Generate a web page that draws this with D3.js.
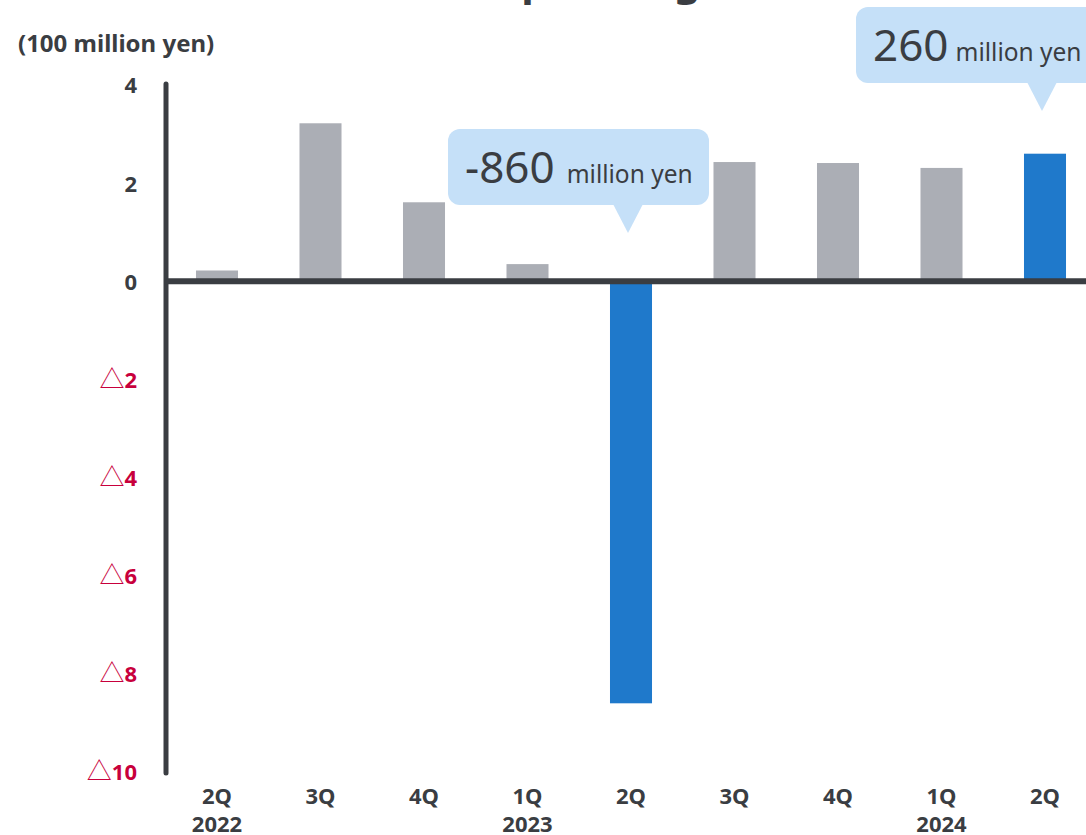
<!DOCTYPE html>
<html>
<head>
<meta charset="utf-8">
<script src="https://cdn.jsdelivr.net/npm/d3@7"></script>
<style>
  html, body { margin: 0; padding: 0; background: #ffffff; }
  svg { display: block; }
  text { font-family: "Noto Sans", "DejaVu Sans", sans-serif; }
</style>
</head>
<body>
<svg id="chart" width="1086" height="835"></svg>
<script>
// Quarterly operating income, in units of 100 million yen
const quarters = ["2Q", "3Q", "4Q", "1Q", "2Q", "3Q", "4Q", "1Q", "2Q"];
const years    = ["2022", "", "", "2023", "", "", "", "2024", ""];
const profit   = [0.22, 3.22, 1.61, 0.35, -8.6, 2.43, 2.41, 2.31, 2.6];
const highlighted = [false, false, false, false, true, false, false, false, true];
const yTicks   = [4, 2, 0, -2, -4, -6, -8, -10];

// Callouts attached to selected quarters
const calloutIndex = [4, 8];
const calloutValue = ["-860", "260"];
const calloutUnit  = "million yen";

const ink = "#3a3d42";
const grey = "#abaeb5";
const blue = "#1f79cb";
const negRed = "#c8003c";
const bubble = "#c5e0f8";

const svg = d3.select("#chart");

const x = d3.scalePoint()
  .domain(d3.range(quarters.length))
  .range([165.25, 1096.75])
  .padding(0.5);
const barW = x.step() * 0.406;

const y = d3.scaleLinear().domain([4, -10]).range([85, 772]);

// Title (runs off the top edge)
svg.append("text")
  .attr("x", 488).attr("y", -5)
  .attr("font-size", 42).attr("font-weight", 700)
  .attr("fill", ink)
  .text("Operating income");

// Unit label
svg.append("text")
  .attr("x", 18).attr("y", 52)
  .attr("font-size", 24).attr("font-weight", 700)
  .attr("fill", ink)
  .text("(100 million yen)");

// Bars
svg.append("g").selectAll("rect")
  .data(profit)
  .join("rect")
  .attr("x", (d, i) => x(i) - barW / 2)
  .attr("y", d => y(Math.max(0, d)))
  .attr("width", barW)
  .attr("height", d => Math.abs(y(d) - y(0)))
  .attr("fill", (d, i) => highlighted[i] ? blue : grey);

// Y axis: spine and labels only; negatives carry a leading triangle
const yAxis = d3.axisLeft(y)
  .tickValues(yTicks)
  .tickSize(0)
  .tickPadding(0)
  .tickFormat(d => String(Math.abs(d)));

const yg = svg.append("g").attr("transform", "translate(137,0)").call(yAxis);
yg.select(".domain").remove();
yg.selectAll("text")
  .attr("font-family", "'Noto Sans', 'DejaVu Sans', sans-serif")
  .attr("font-size", 22).attr("font-weight", 700)
  .attr("fill", d => d < 0 ? negRed : ink)
  .attr("dy", "0.36em")
  .each(function (d) {
    if (d < 0) {
      const t = d3.select(this);
      const num = t.text();
      t.text(null);
      t.append("tspan")
        .attr("font-family", "'Noto Sans CJK JP', 'DejaVu Sans', sans-serif")
        .attr("font-weight", 400)
        .attr("font-size", 25)
        .text("\u25B3");
      t.append("tspan").text(num);
    }
  });

svg.append("line")
  .attr("x1", 166).attr("x2", 166)
  .attr("y1", y(4) - 1).attr("y2", y(-10) + 1)
  .attr("stroke", ink).attr("stroke-width", 5)
  .attr("stroke-linecap", "round");

// Zero baseline
svg.append("line")
  .attr("x1", 166).attr("x2", 1086)
  .attr("y1", y(0)).attr("y2", y(0))
  .attr("stroke", ink).attr("stroke-width", 6);

// Category labels
const xg = svg.append("g");
xg.selectAll("text.q")
  .data(quarters)
  .join("text")
  .attr("class", "q")
  .attr("x", (d, i) => x(i))
  .attr("y", 804)
  .attr("text-anchor", "middle")
  .attr("font-size", 22).attr("font-weight", 700)
  .attr("fill", ink)
  .text(d => d);
xg.selectAll("text.yr")
  .data(years)
  .join("text")
  .attr("class", "yr")
  .attr("x", (d, i) => x(i))
  .attr("y", 832)
  .attr("text-anchor", "middle")
  .attr("font-size", 22).attr("font-weight", 700)
  .attr("fill", ink)
  .text(d => d);

// Callout bubbles
const calloutBox = [
  { dx: -180, top: 129, w: 261, h: 76, tipY: 233, gap: 12 },
  { dx: -186, top: 7,   w: 270, h: 76, tipY: 111, gap: 7 }
];

calloutIndex.forEach((idx, k) => {
  const cx = x(idx) - 3;
  const b = calloutBox[k];
  const g = svg.append("g");
  g.append("rect")
    .attr("x", cx + b.dx).attr("y", b.top)
    .attr("width", b.w).attr("height", b.h)
    .attr("rx", 12)
    .attr("fill", bubble);
  g.append("path")
    .attr("d", `M${cx - 15},${b.top + b.h - 1} L${cx + 15},${b.top + b.h - 1} L${cx},${b.tipY} Z`)
    .attr("fill", bubble);
  const t = g.append("text")
    .attr("x", cx + b.dx + 17)
    .attr("y", b.top + 54)
    .attr("fill", ink);
  t.append("tspan").attr("font-size", 44).text(calloutValue[k]);
  t.append("tspan").attr("font-size", 24.5).attr("dx", b.gap).text(calloutUnit);
});
</script>
</body>
</html>
